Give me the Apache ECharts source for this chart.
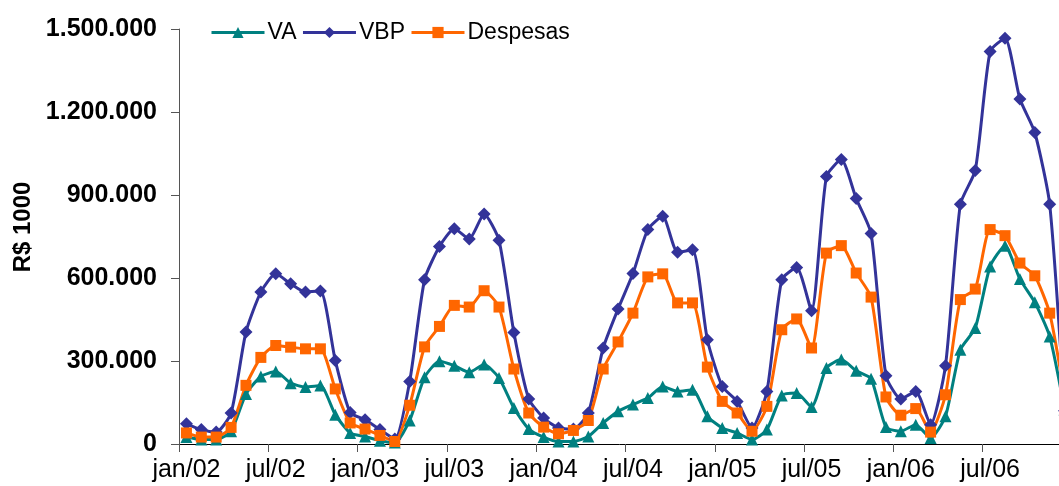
<!DOCTYPE html>
<html>
<head>
<meta charset="utf-8">
<script src="https://cdn.jsdelivr.net/npm/echarts@6/dist/echarts.min.js"></script>
<style>
html,body{margin:0;padding:0;background:#fff;}
#chart{width:1059px;height:486px;}
</style>
</head>
<body>
<div id="chart"></div>
<script>
const months = ['jan','fev','mar','abr','mai','jun','jul','ago','set','out','nov','dez'];
const years = ['02','03','04','05','06'];
const categories = [];
years.forEach(y => months.forEach(m => categories.push(m + '/' + y)));

const yTicks = [0, 300000, 600000, 900000, 1200000, 1500000];

const va = [
  25000, 16000, 16000, 46000, 181000, 244000, 262000, 220000, 206000, 211000, 106000, 40000,
  27000, 12000, 5000, 85000, 241000, 299000, 283000, 259000, 287000, 239000, 130000, 54000,
  25000, 9000, 9000, 27000, 76000, 118000, 143000, 166000, 208000, 190000, 196000, 100000,
  58000, 40000, 16000, 52000, 175000, 184000, 134000, 275000, 305000, 265000, 236000, 61000,
  46000, 70000, 22000, 100000, 341000, 419000, 642000, 717000, 596000, 512000, 389000, 125000
];
const vbp = [
  73000, 52000, 43000, 112000, 405000, 549000, 615000, 579000, 549000, 553000, 302000, 114000,
  88000, 52000, 18000, 226000, 594000, 714000, 778000, 741000, 831000, 736000, 403000, 163000,
  94000, 58000, 54000, 112000, 347000, 488000, 616000, 775000, 823000, 693000, 702000, 377000,
  208000, 154000, 58000, 190000, 594000, 638000, 482000, 967000, 1028000, 887000, 761000, 247000,
  163000, 190000, 70000, 283000, 867000, 989000, 1419000, 1467000, 1247000, 1126000, 867000, 120000
];
const despesas = [
  40000, 25000, 25000, 60000, 212000, 313000, 356000, 350000, 344000, 344000, 199000, 76000,
  54000, 31000, 9000, 140000, 351000, 425000, 501000, 495000, 554000, 495000, 271000, 112000,
  61000, 37000, 49000, 85000, 271000, 369000, 473000, 604000, 615000, 510000, 510000, 278000,
  154000, 112000, 46000, 136000, 413000, 452000, 347000, 690000, 717000, 618000, 531000, 170000,
  104000, 128000, 43000, 178000, 522000, 560000, 775000, 753000, 654000, 608000, 473000, 175000
];

const fmt = v => String(v).replace(/\B(?=(\d{3})+(?!\d))/g, '.');
const FONT = '"Liberation Sans", Arial, sans-serif';

const chart = echarts.init(document.getElementById('chart'), null, {renderer: 'canvas'});
const mkSeries = (name, data, color, symbol, size) => ({
  name, type: 'line', data, smooth: 0.2,
  symbol, symbolSize: size, showSymbol: true, showAllSymbol: true,
  lineStyle: {color, width: 3},
  itemStyle: {color, borderWidth: 0},
  emphasis: {disabled: true},
  animation: false
});

chart.setOption({
  animation: false,
  backgroundColor: '#fff',
  textStyle: {fontFamily: FONT},
  grid: {left: 179, top: 29, width: 893, height: 415, containLabel: false, outerBoundsMode: 'none'},
  legend: {
    left: 205, top: 16,
    itemWidth: 53, itemHeight: 14, itemGap: 5,
    lineStyle: {width: 3, inactiveWidth: 3},
    textStyle: {fontFamily: FONT, fontSize: 23, color: '#000', padding: [0, 0, 0, -2]},
    data: ['VA', 'VBP', 'Despesas']
  },
  xAxis: {
    type: 'category', data: categories, boundaryGap: true,
    axisLine: {lineStyle: {color: '#000', width: 1}},
    axisTick: {show: true, interval: 5, length: 8, lineStyle: {color: '#555'}},
    axisLabel: {interval: 5, color: '#000', fontSize: 25, fontFamily: FONT, margin: 14,
      formatter: v => (v.startsWith('jan') || v.startsWith('jul')) ? v : ''},
    splitLine: {show: false}
  },
  yAxis: {
    type: 'value', min: yTicks[0], max: yTicks[yTicks.length - 1], interval: yTicks[1] - yTicks[0],
    axisLine: {show: true, lineStyle: {color: '#555', width: 1}},
    axisTick: {show: true, length: 8, lineStyle: {color: '#555'}},
    axisLabel: {color: '#000', fontSize: 25, fontWeight: 'bold', fontFamily: FONT, margin: 22, formatter: fmt},
    splitLine: {show: false}
  },
  graphic: [{
    type: 'text', x: 23, y: 227, rotation: Math.PI / 2,
    style: {text: 'R$ 1000', fontSize: 24, fontWeight: 'bold', fontFamily: FONT, fill: '#000',
      textAlign: 'center', textVerticalAlign: 'middle'}
  }],
  series: [
    mkSeries('VA', va, '#008080', 'triangle', 12),
    mkSeries('VBP', vbp, '#333399', 'diamond', 13),
    mkSeries('Despesas', despesas, '#FF6600', 'rect', 11)
  ]
});
</script>
</body>
</html>
